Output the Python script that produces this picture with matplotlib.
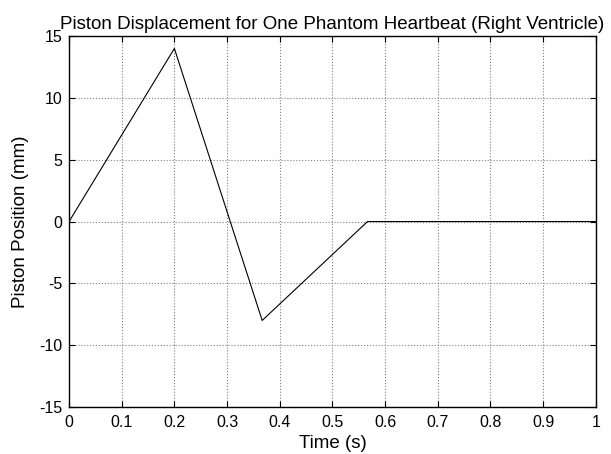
import matplotlib
matplotlib.use('Agg')
import matplotlib.pyplot as plt
import numpy as np

# piston waveform breakpoints
time_s = [0, 0.2, 0.3667, 0.5667, 1.0]
position_mm = [0, 14, -8, 0, 0]

xticks = np.arange(0, 1.01, 0.1)
xticklabels = ['0', '0.1', '0.2', '0.3', '0.4', '0.5', '0.6', '0.7', '0.8', '0.9', '1']
yticks = [-15, -10, -5, 0, 5, 10, 15]

plt.rcParams['font.family'] = ['Liberation Sans', 'DejaVu Sans']
plt.rcParams['axes.unicode_minus'] = False

fig = plt.figure(figsize=(6.11, 4.54), dpi=100)
ax = fig.add_axes([0.113, 0.1035, 0.862, 0.817])

ax.plot(time_s, position_mm, color='k', linewidth=0.8)

ax.set_xlim(0, 1)
ax.set_ylim(-15, 15)
ax.set_xticks(xticks)
ax.set_xticklabels(xticklabels)
ax.set_yticks(yticks)

# matlab look: inward ticks on all sides, dotted grid
ax.tick_params(direction='in', top=True, right=True, length=4, width=0.8, labelsize=11.5)
ax.tick_params(axis='x', pad=6)
ax.tick_params(axis='y', pad=5)
ax.grid(True, linestyle=':', color='#808080', linewidth=0.8)
for s in ax.spines.values():
    s.set_linewidth(1.0)

ax.set_xlabel('Time (s)', fontsize=13.5, labelpad=3)
ax.set_ylabel('Piston Position (mm)', fontsize=13.5, labelpad=7)
ax.set_title('Piston Displacement for One Phantom Heartbeat (Right Ventricle)', fontsize=13.5, pad=5)

fig.savefig('out.png', dpi=100)
